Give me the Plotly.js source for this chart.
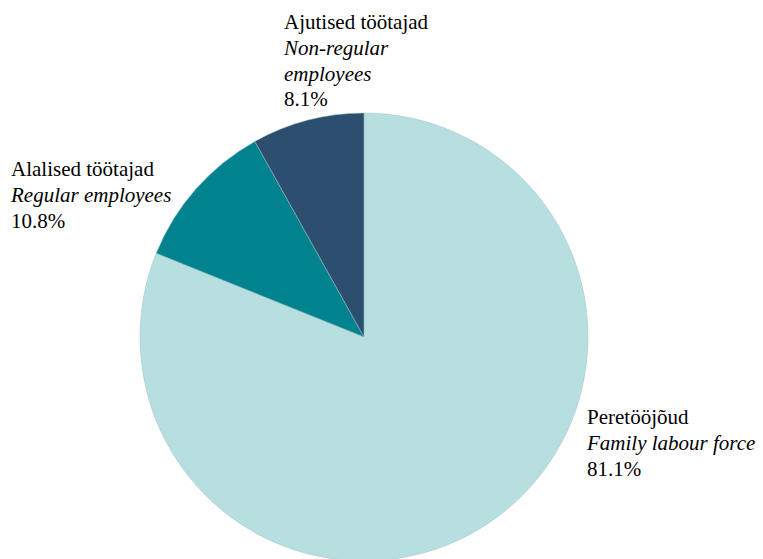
<!DOCTYPE html>
<html>
<head>
<meta charset="utf-8">
<script src="https://cdn.plot.ly/plotly-3.0.1.min.js"></script>
<style>
html,body{margin:0;padding:0;overflow:hidden;background:#fff;}
#wrap{position:relative;width:763px;height:559px;overflow:hidden;}
#chart{position:absolute;left:0;top:0;}
.lbl{position:absolute;font-family:'Liberation Serif','Times New Roman',Times,serif;font-size:21px;line-height:25.8px;color:#000;white-space:nowrap;}
.lbl i{font-style:italic;}
</style>
</head>
<body>
<div id="wrap"><div id="chart"></div></div>
<script>
const labelsEt = ["Peretööjõud", "Alalised töötajad", "Ajutised töötajad"];
const labelsEnLines = [["Family labour force"], ["Regular employees"], ["Non-regular", "employees"]];
const shares = [81.1, 10.8, 8.1];
const colors = ["#b8dfe0", "#00838f", "#2d4f6f"];

const W = 763, H = 561;
const cx = 364, r = 224;
// pie domain derived from desired centre/radius (pixels -> paper fraction)
const domX = [(cx - r) / W, (cx + r) / W];
const domY = [0, (2 * r) / H];

// label block placement: left x and first-baseline y, in pixels from top-left
const labelPos = [[587, 425], [11, 177], [284, 30]];

const data = [{
  type: 'pie',
  values: shares,
  labels: labelsEt,
  sort: false,
  direction: 'clockwise',
  rotation: 0,
  textinfo: 'none',
  hoverinfo: 'label+percent',
  marker: {colors: colors, line: {width: 0.5, color: '#9fbfc6'}},
  domain: {x: domX, y: domY},
  showlegend: false
}];

const layout = {
  width: W, height: H,
  margin: {l: 0, r: 0, t: 0, b: 0},
  paper_bgcolor: '#fff',
  showlegend: false
};

Plotly.newPlot('chart', data, layout, {displayModeBar: false, staticPlot: true});

// slice labels as real text, placed over the chart
const wrap = document.getElementById('wrap');
labelsEt.forEach((et, i) => {
  const d = document.createElement('div');
  d.className = 'lbl';
  d.style.left = labelPos[i][0] + 'px';
  d.style.top = (labelPos[i][1] - 20) + 'px';
  d.innerHTML = et + '<br><i>' + labelsEnLines[i].join('<br>') + '</i><br>' + shares[i].toFixed(1) + '%';
  wrap.appendChild(d);
});
</script>
</body>
</html>
